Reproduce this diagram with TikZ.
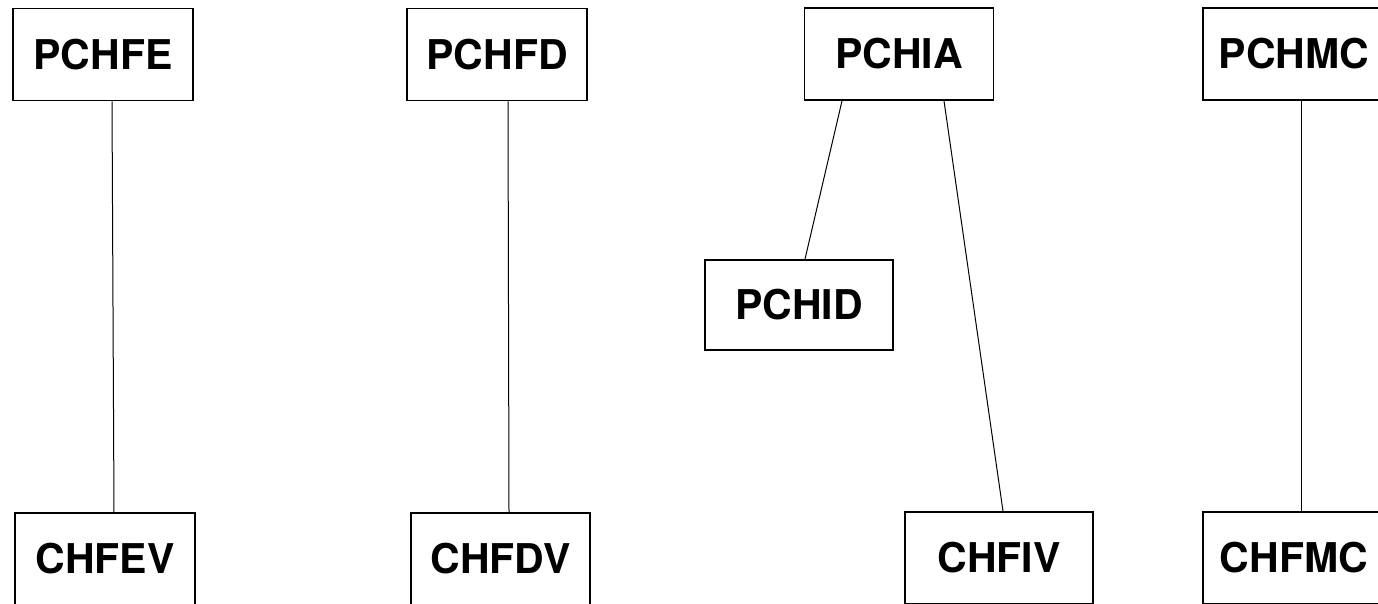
\documentclass[tikz,border=0pt]{standalone}
\usepackage{fontspec}
\setmainfont{TeX Gyre Heros}
\begin{document}
\begin{tikzpicture}[x=1pt,y=-1pt,
  box/.style={draw=black, line width=1.8pt, minimum width=180pt, minimum height=92pt, inner sep=0pt,
    font=\fontsize{41}{41}\selectfont\bfseries},
  link/.style={draw=black, line width=1pt}]
\useasboundingbox (0,0) rectangle (1378,604);
\clip (0,0) rectangle (1378,604);
% top row
\node[box] (pfe) at (103,54.5) {PCHFE};
\node[box] (pfd) at (497,54.5) {PCHFD};
\node[box, minimum width=189pt] (pia) at (899,54) {PCHIA};
\node[box, minimum width=182pt] (pmc) at (1294,54) {PCHMC};
% middle
\node[box, minimum width=188pt, minimum height=90pt] (pid) at (799,305) {PCHID};
% bottom row
\node[box] (cfev) at (105,559) {CHFEV};
\node[box, minimum width=179pt] (cfdv) at (500.5,559) {CHFDV};
\node[box, minimum width=188pt] (cfiv) at (999,558) {CHFIV};
\node[box, minimum width=182pt] (cfmc) at (1294,558) {CHFMC};
% connectors
\draw[link] ([xshift=9pt]pfe.south) -- ([xshift=9pt]cfev.north);
\draw[link] ([xshift=11pt]pfd.south) -- ([xshift=8.5pt]cfdv.north);
\draw[link] ([xshift=-57pt]pia.south) -- ([xshift=6pt]pid.north);
\draw[link] ([xshift=45pt]pia.south) -- ([xshift=4pt]cfiv.north);
\draw[link] ([xshift=7pt]pmc.south) -- ([xshift=7pt]cfmc.north);
\end{tikzpicture}
\end{document}
